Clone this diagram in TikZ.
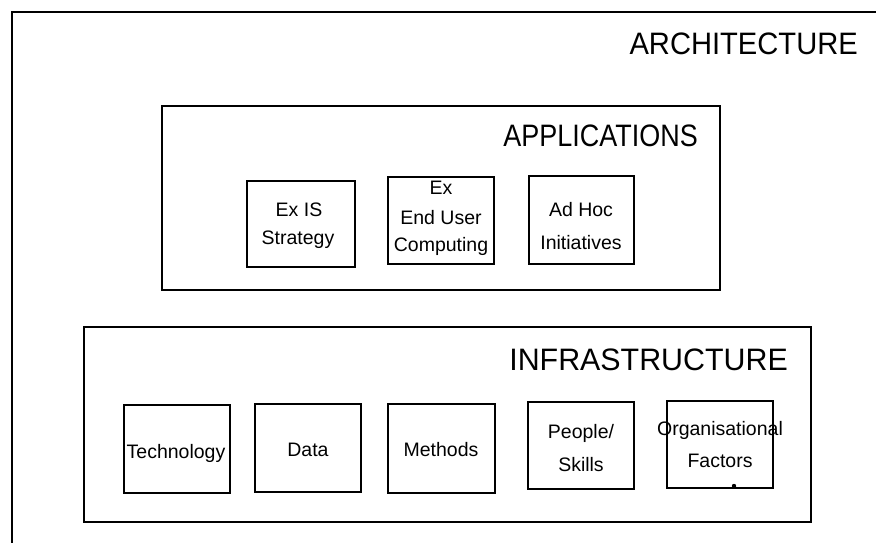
\documentclass[tikz,border=0pt]{standalone}
\usepackage{fontspec}
\usepackage{graphicx}
\setmainfont{Liberation Sans}
\newcommand{\squeezed}[2]{\scalebox{#1}[1]{#2}}
\begin{document}
\begin{tikzpicture}[x=1pt,y=-1pt,
  frame/.style={draw=black,line width=1.3pt},
  tbox/.style={draw=black,line width=1.6pt},
  title/.style={anchor=east,inner sep=0pt,font=\fontsize{31}{31}\selectfont},
  txt/.style={inner sep=0pt,font=\fontsize{19.5}{19.5}\selectfont}]
\useasboundingbox (0,0) rectangle (876,542);
% outer architecture frame (runs off the right and bottom)
\draw[frame] (12,560) -- (12,12) -- (890,12);
\node[title] (arch) at (858,44) {\squeezed{0.94}{ARCHITECTURE}};

% applications layer
\draw[frame] (162,106) rectangle (720,290);
\node[title] (apps) at (698,136) {\squeezed{0.87}{APPLICATIONS}};
\draw[tbox] (247,181) rectangle (355,267);
\node[txt] (exis1) at (299,210) {Ex IS};
\node[txt] (exis2) at (298,240) {Strategy};
\draw[tbox] (388,177) rectangle (494,264);
\node[txt] (eu1) at (441,188) {Ex};
\node[txt] (eu2) at (441,218) {End User};
\node[txt] (eu3) at (441,246) {Computing};
\draw[tbox] (529,176) rectangle (634,264);
\node[txt] (ah1) at (581,210) {Ad Hoc};
\node[txt] (ah2) at (581,243) {Initiatives};

% infrastructure layer
\draw[frame] (84,327) rectangle (811,522);
\node[title] (infra) at (788,360) {\squeezed{0.98}{INFRASTRUCTURE}};
\draw[tbox] (124,405) rectangle (230,493);
\node[txt] (tech) at (176,453) {Technology};
\draw[tbox] (255,404) rectangle (361,492);
\node[txt] (data) at (308,450) {Data};
\draw[tbox] (388,404) rectangle (495,493);
\node[txt] (meth) at (441,450) {Methods};
\draw[tbox] (528,402) rectangle (634,489);
\node[txt] (ppl1) at (581,433) {People/};
\node[txt] (ppl2) at (581,465) {Skills};
\draw[tbox] (667,401) rectangle (773,488);
\node[txt] (org1) at (720,430) {Organisational};
\node[txt] (org2) at (720,461) {Factors};
\fill (734,486) circle (2.2);
\end{tikzpicture}
\end{document}
